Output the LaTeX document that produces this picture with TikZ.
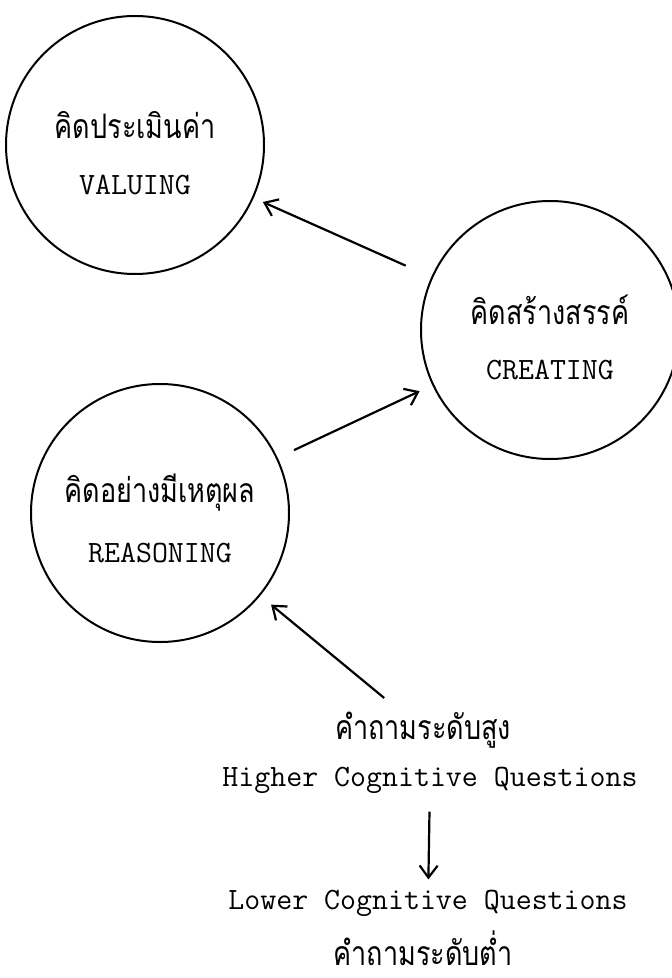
\documentclass[tikz,border=0pt]{standalone}
\usepackage{fontspec}
\usepackage{graphicx}
\newfontfamily\thaifont[Script=Thai]{Loma}
\newcommand\thaiTxt[1]{\scalebox{1}[1.25]{\thaifont\fontsize{13.5}{16}\selectfont #1}}
\usepackage{tikz}
\usetikzlibrary{positioning,arrows.meta}
\tikzset{
		edgeStyle/.style = {line width = 1.1pt, -{Straight Barb[length=6pt,width=9pt,line width=1.1pt]}},
		thinking/.style =  {circle,draw,line width=1pt,minimum size=129pt,inner sep=0pt},
		thaiLabel/.style = {inner sep=1pt},
		engLabel/.style =  {font=\ttfamily\fontsize{15.5}{18}\selectfont,inner sep=1pt},
		x=0.5pt, y=-0.5pt
}

\begin{document}
\begin{tikzpicture}
  \useasboundingbox (0,0) rectangle (672,978);

  % Draw the three kinds of thinking
  \foreach \nm/\px/\py/\th/\en in {val/135/145/คิดประเมินค่า/VALUING,
                                    crt/550/330/คิดสร้างสรรค์/CREATING,
                                    rsn/160/513/คิดอย่างมีเหตุผล/REASONING}
  {
    \node [thinking] (\nm) at (\px,\py) {};
    \node [thaiLabel] (\nm-th) at ([yshift=10pt]\nm.center) {\thaiTxt{\th}};
    \node [engLabel]  (\nm-en) at ([yshift=-20pt]\nm.center) {\en};
  }

  % Draw the question levels
  \node [thaiLabel] (qhigh) at (423,730) {\thaiTxt{คำถามระดับสูง}};
  \node [engLabel]  (hq) at (430,780) {Higher Cognitive Questions};
  \node [engLabel]  (lq) at (428,903) {Lower Cognitive Questions};
  \node [thaiLabel] (qlow) at (423,948) {\thaiTxt{คำถามระดับต่ำ}};

  % Draw arrows between them
  \draw [edgeStyle, shorten <=14pt, shorten >=5pt] (crt) -- (val);
  \draw [edgeStyle, shorten <=9pt, shorten >=7pt] (rsn) -- (crt);
  \draw [edgeStyle, shorten <=9pt, shorten >=7pt] (qhigh) -- (rsn);
  \draw [edgeStyle, shorten <=8pt, shorten >=4pt] (hq) -- (lq);

\end{tikzpicture}
\end{document}
